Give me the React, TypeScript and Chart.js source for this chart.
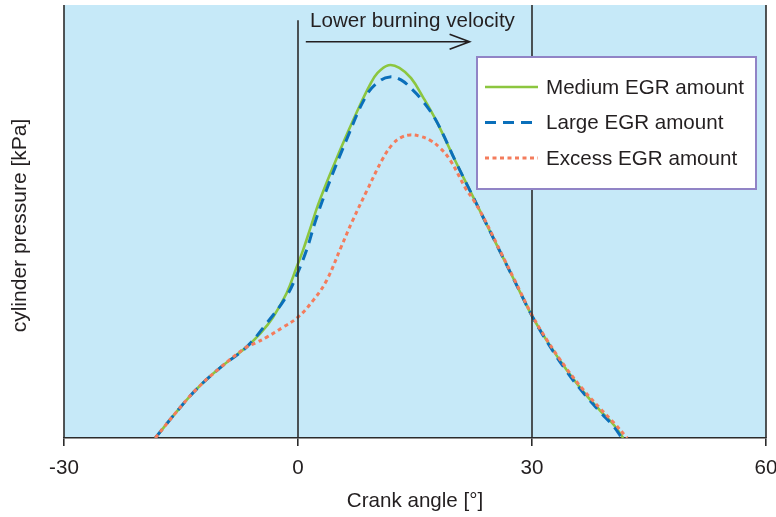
import React, { useEffect, useRef } from "react";
import { Chart, registerables } from "chart.js";

Chart.register(...registerables);

// ---- data (crank angle [°] vs cylinder pressure, arbitrary units 0-100) ----
const angleMedium = [-18.3, -15.5, -13, -10, -6.6, -4.8, -3.2, -1.45, -0.17, 0.65, 1.5, 2.8, 5.4, 7.5, 9.2, 10.2, 11.6, 13, 14.5, 16, 17.8, 20.3, 22, 24, 26, 27.6, 30, 32, 34.4, 36.5, 38.7, 40.5, 41.7];
const pressureMedium = [0, 6.2, 11.3, 16.2, 21.0, 24.2, 27.9, 33.5, 39.5, 43.4, 48.0, 55.0, 66.5, 75.1, 81.5, 84.3, 86.1, 85.5, 83.1, 78.8, 73.0, 63.5, 57.3, 50.0, 42.7, 36.9, 28.2, 22.2, 15.8, 10.9, 6.4, 3.0, 0];

const angleLarge = [-18.3, -15.5, -13, -10, -6.6, -4.1, -1.45, -0.17, 1.1, 2.2, 3.5, 6.2, 8.8, 10.5, 11.8, 13.2, 14.7, 16, 17.8, 20.3, 22, 24, 26, 27.6, 30, 32, 34.4, 36.5, 38.7, 40.5, 41.5];
const pressureLarge = [0, 6.2, 11.3, 16.2, 21.0, 26.3, 32.8, 37.6, 43.4, 49.9, 56.6, 68.8, 79.2, 82.5, 83.4, 82.7, 80.4, 77.8, 73.0, 63.5, 57.3, 50.0, 42.7, 36.9, 28.2, 22.0, 15.5, 10.6, 6.1, 2.6, 0];

const angleExcess = [-18.3, -15.5, -13, -10, -6.6, -5.5, -4, -1.9, 0, 2, 3.7, 5.5, 7, 8.8, 10.9, 12.2, 13.3, 14.4, 15.6, 16.9, 18.2, 19.5, 21.6, 22.5, 24, 26, 27.6, 30, 32, 34.4, 36.5, 38.7, 40.5, 42.2];
const pressureExcess = [0, 6.2, 11.3, 16.2, 21.0, 21.9, 23.3, 25.6, 27.9, 31.9, 36.5, 44.0, 50.2, 57.0, 64.6, 68.0, 69.5, 70.0, 69.7, 68.8, 67.0, 64.2, 57.3, 55.0, 50.2, 42.9, 37.1, 28.4, 22.4, 16.1, 11.3, 6.9, 3.5, 0];

const seriesNames = ["Medium EGR amount", "Large EGR amount", "Excess EGR amount"];
const xTicks = [-30, 0, 30, 60];
const refLines = [0, 30];
const annotationText = "Lower burning velocity";
const xTitle = "Crank angle [°]";
const yTitle = "cylinder pressure [kPa]";

// ---- styles ----
const FONT = "'Liberation Sans', Arial, Helvetica, sans-serif";
const TEXT = "#231f20";
const AXIS = "#2b2b2b";
const BG = "#c6e9f8";
const GREEN = "#8cc63f";
const BLUE = "#0a6fba";
const ORANGE = "#f47c5c";
const FS = 20.6;

const toPts = (xs: number[], ys: number[]) => xs.map((x, i) => ({ x, y: ys[i] }));

export default function App() {
  const ref = useRef<HTMLCanvasElement | null>(null);

  useEffect(() => {
    document.body.style.margin = "0";
    const canvas = ref.current;
    if (!canvas) return;

    const bgPlugin = {
      id: "bgPlugin",
      beforeDraw(chart: any) {
        const { ctx, chartArea: a } = chart;
        ctx.save();
        ctx.fillStyle = BG;
        ctx.fillRect(a.left, a.top, a.right - a.left, a.bottom - a.top);
        ctx.restore();
      },
    };

    const overlayPlugin = {
      id: "overlayPlugin",
      afterDatasetsDraw(chart: any) {
        const { ctx, chartArea: a, scales } = chart;
        const xs = scales.x;
        const ys = scales.y;
        ctx.save();
        ctx.strokeStyle = AXIS;
        ctx.lineWidth = 1.6;
        [a.left, a.right].forEach((px: number) => {
          ctx.beginPath();
          ctx.moveTo(px, a.top);
          ctx.lineTo(px, a.bottom);
          ctx.stroke();
        });
        refLines.forEach((v, i) => {
          const px = xs.getPixelForValue(v);
          const top = i === 0 ? ys.getPixelForValue(96.5) : a.top;
          ctx.beginPath();
          ctx.moveTo(px, top);
          ctx.lineTo(px, a.bottom);
          ctx.stroke();
        });
        ctx.restore();
      },
      afterDraw(chart: any) {
        const { ctx, chartArea: a, scales } = chart;
        const xs = scales.x;
        const ys = scales.y;
        ctx.save();
        ctx.fillStyle = TEXT;
        ctx.font = `${FS}px ${FONT}`;
        ctx.textAlign = "left";
        ctx.textBaseline = "alphabetic";
        ctx.fillText(annotationText, xs.getPixelForValue(1.54), ys.getPixelForValue(94.9));
        const ay = ys.getPixelForValue(91.5);
        const ax0 = xs.getPixelForValue(1.0);
        const ax1 = xs.getPixelForValue(22.0);
        ctx.strokeStyle = TEXT;
        ctx.lineWidth = 1.6;
        ctx.beginPath();
        ctx.moveTo(ax0, ay);
        ctx.lineTo(ax1, ay);
        ctx.moveTo(ax1 - 20, ay - 7.5);
        ctx.lineTo(ax1, ay);
        ctx.lineTo(ax1 - 20, ay + 7.5);
        ctx.stroke();

        ctx.save();
        ctx.translate(20, 225.5);
        ctx.rotate(-Math.PI / 2);
        ctx.textAlign = "center";
        ctx.textBaseline = "middle";
        ctx.font = `21px ${FONT}`;
        ctx.fillText(yTitle, 0, 0);
        ctx.restore();

        const bw = 279;
        const bh = 132;
        const bx = a.right - 10 - bw;
        const by = a.top + 52;
        ctx.fillStyle = "#ffffff";
        ctx.fillRect(bx, by, bw, bh);
        ctx.strokeStyle = "#9184c6";
        ctx.lineWidth = 2;
        ctx.strokeRect(bx, by, bw, bh);
        const styles = chart.data.datasets;
        const rowY = [30, 65.5, 101];
        ctx.font = `${FS}px ${FONT}`;
        ctx.textAlign = "left";
        ctx.textBaseline = "middle";
        styles.forEach((ds: any, i: number) => {
          const yy = by + rowY[i];
          ctx.beginPath();
          ctx.strokeStyle = ds.borderColor;
          ctx.lineWidth = ds.borderWidth;
          ctx.setLineDash(ds.borderDash || []);
          ctx.moveTo(bx + 8, yy);
          ctx.lineTo(bx + 61, yy);
          ctx.stroke();
          ctx.setLineDash([]);
          ctx.fillStyle = TEXT;
          ctx.fillText(ds.label, bx + 69, yy + 1);
        });
        ctx.restore();
      },
    };

    const chart = new Chart(canvas, {
      type: "line",
      data: {
        datasets: [
          {
            label: seriesNames[0],
            data: toPts(angleMedium, pressureMedium),
            borderColor: GREEN,
            borderWidth: 2.6,
            pointRadius: 0,
            tension: 0.4,
            order: 3,
          },
          {
            label: seriesNames[1],
            data: toPts(angleLarge, pressureLarge),
            borderColor: BLUE,
            borderWidth: 3,
            borderDash: [11, 7],
            pointRadius: 0,
            tension: 0.4,
            order: 2,
          },
          {
            label: seriesNames[2],
            data: toPts(angleExcess, pressureExcess),
            borderColor: ORANGE,
            borderWidth: 3,
            borderDash: [4, 3.5],
            pointRadius: 0,
            tension: 0.4,
            order: 1,
          },
        ],
      },
      options: {
        responsive: false,
        animation: false,
        events: [],
        layout: { padding: { left: 64, right: 10, top: 5, bottom: 0 } },
        plugins: {
          legend: { display: false },
          tooltip: { enabled: false },
        },
        scales: {
          x: {
            type: "linear",
            min: -30,
            max: 60,
            afterBuildTicks: (scale: any) => {
              scale.ticks = xTicks.map((v) => ({ value: v }));
            },
            afterFit: (scale: any) => {
              scale.height = 79;
              scale.paddingLeft = 0;
              scale.paddingRight = 0;
            },
            ticks: {
              color: TEXT,
              font: { size: FS, family: FONT },
              padding: 10,
              maxRotation: 0,
              autoSkip: false,
              callback: (v: any) => String(v),
            },
            grid: {
              drawOnChartArea: false,
              drawTicks: true,
              tickLength: 8,
              color: AXIS,
              lineWidth: 1.6,
            },
            border: { display: true, color: AXIS, width: 1.6 },
            title: {
              display: true,
              text: xTitle,
              color: TEXT,
              font: { size: FS, family: FONT },
              padding: { top: 0, bottom: 3 },
            },
          },
          y: {
            display: false,
            min: 0,
            max: 100,
          },
        },
      },
      plugins: [bgPlugin, overlayPlugin],
    } as any);

    return () => chart.destroy();
  }, []);

  return (
    <canvas
      ref={ref}
      width={776}
      height={517}
      style={{ position: "fixed", left: 0, top: 0, display: "block" }}
    />
  );
}
